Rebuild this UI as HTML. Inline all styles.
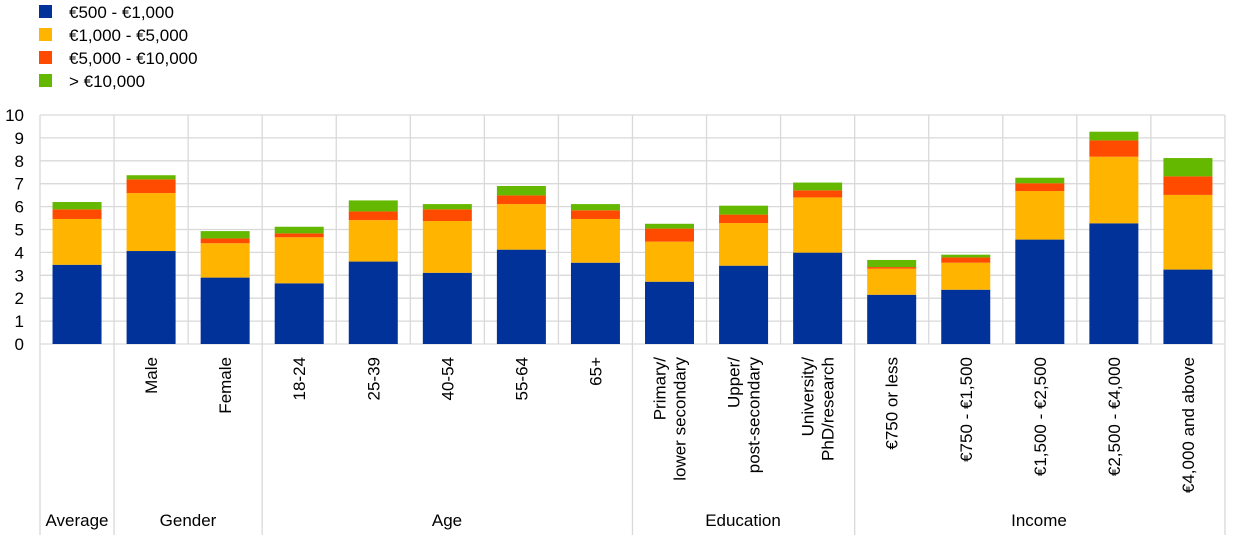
<!DOCTYPE html>
<html><head><meta charset="utf-8"><style>
body{margin:0;background:#fff;}
svg{display:block;font-family:"Liberation Sans",Arial,sans-serif;}
</style></head><body>
<svg width="1240" height="535" viewBox="0 0 1240 535">
<g font-size="17" fill="#000">
<rect x="39" y="5" width="13" height="13" fill="#003299"/><text x="69" y="18">€500 - €1,000</text>
<rect x="39" y="28" width="13" height="13" fill="#FFB400"/><text x="69" y="41">€1,000 - €5,000</text>
<rect x="39" y="51" width="13" height="13" fill="#FF4B00"/><text x="69" y="64">€5,000 - €10,000</text>
<rect x="39" y="74" width="13" height="13" fill="#65B800"/><text x="69" y="87">&gt; €10,000</text>
</g>
<g id="grid" stroke="#d9d9d9" stroke-width="1.3"></g>
<g id="bars"></g>
<g id="labels" font-size="17" fill="#000"></g>
<script>
var ns="http://www.w3.org/2000/svg";
function el(p,t,a,txt){var e=document.createElementNS(ns,t);for(var k in a)e.setAttribute(k,a[k]);if(txt)e.textContent=txt;p.appendChild(e);return e;}
var g=document.getElementById('grid'),b=document.getElementById('bars'),L=document.getElementById('labels');
var y0=344,u=22.9,x0=40,w=74.06;
for(var i=0;i<=10;i++){var y=y0-i*u;el(g,'line',{x1:x0,x2:1225,y1:y,y2:y});el(L,'text',{x:24,y:y+6,'text-anchor':'end'},String(i));}
var groups=[0,1,3,8,11,16];
for(var i=0;i<=16;i++){var x=x0+i*w;var bot=groups.indexOf(i)>=0?535:y0;el(g,'line',{x1:x,x2:x,y1:115,y2:bot});}
var d=[[3.46,5.46,5.88,6.2],[4.06,6.59,7.19,7.37],[2.9,4.4,4.61,4.93],[2.65,4.66,4.83,5.12],[3.6,5.41,5.79,6.27],[3.11,5.37,5.88,6.11],[4.12,6.11,6.49,6.9],[3.55,5.46,5.84,6.11],[2.72,4.47,5.04,5.25],[3.42,5.28,5.65,6.04],[3.99,6.4,6.71,7.05],[2.15,3.29,3.36,3.67],[2.37,3.55,3.78,3.9],[4.56,6.68,7.02,7.26],[5.27,8.18,8.89,9.27],[3.25,6.51,7.32,8.12]];
var cols=['#003299','#FFB400','#FF4B00','#65B800'];
d.forEach(function(r,i){var cx=x0+(i+0.5)*w;var prev=0;r.forEach(function(v,j){el(b,'rect',{x:cx-24.5,width:49,y:y0-v*u,height:(v-prev)*u,fill:cols[j]});prev=v;});});
var lab=[null,['Male'],['Female'],['18-24'],['25-39'],['40-54'],['55-64'],['65+'],['Primary/','lower secondary'],['Upper/','post-secondary'],['University/','PhD/research'],['€750 or less'],['€750 - €1,500'],['€1,500 - €2,500'],['€2,500 - €4,000'],['€4,000 and above']];
lab.forEach(function(l,i){if(!l)return;var cx=x0+(i+0.5)*w;
 if(l.length==1){el(L,'text',{transform:'translate('+(cx+6)+',357) rotate(-90)','text-anchor':'end'},l[0]);}
 else{el(L,'text',{transform:'translate('+(cx-4)+',357) rotate(-90)','text-anchor':'end'},l[0]);el(L,'text',{transform:'translate('+(cx+16)+',357) rotate(-90)','text-anchor':'end'},l[1]);}
});
[['Average',77],['Gender',188],['Age',447],['Education',743],['Income',1039]].forEach(function(a){el(L,'text',{x:a[1],y:526,'text-anchor':'middle'},a[0]);});
</script>
</svg>
</body></html>
